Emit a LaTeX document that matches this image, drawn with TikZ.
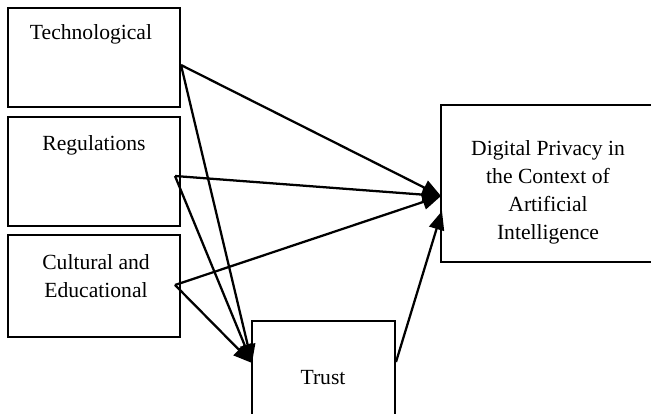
\documentclass[tikz,border=0pt]{standalone}
\usepackage{fontspec}
\setmainfont{Liberation Serif}
\usetikzlibrary{arrows.meta}
\begin{document}
\begin{tikzpicture}[x=0.75pt,y=-0.75pt,
  lbl/.style={font=\fontsize{16.2}{20.8}\selectfont, align=center, inner sep=0pt, anchor=base},
  frame/.style={draw, line width=2.1pt, inner sep=0pt},
  conn/.style={line width=1.7pt, -{Triangle[length=14pt,width=11.5pt]}}]
\useasboundingbox (0,0) rectangle (651,414);
% boxes
\node[frame, minimum width=129pt, minimum height=74.25pt] (tech) at (94,57.5) {};
\node[frame, minimum width=129pt, minimum height=81.75pt] (reg) at (94,171.5) {};
\node[frame, minimum width=129pt, minimum height=76.5pt] (cult) at (94,286) {};
\node[frame, minimum width=165pt, minimum height=117.75pt] (dig) at (551,183.5) {};
\node[frame, minimum width=107.25pt, minimum height=75pt] (trust) at (323.5,371) {};
% labels
\node[lbl] (techt) at (91,40) {Technological};
\node[lbl] (regt) at (94,150) {Regulations};
\node[lbl] (cultt) at (96,297) {Cultural and\\Educational};
\node[lbl] (digt) at (548,239) {Digital Privacy in\\the Context of\\Artificial\\Intelligence};
\node[lbl] (trustt) at (323,384) {Trust};
% connector points
\coordinate (s1) at (181,65);
\coordinate (s2) at (175,176);
\coordinate (s3) at (175,285);
\coordinate (s4) at (396,362);
\coordinate (d1) at (441,196);
\coordinate (d2) at (442,211);
\coordinate (e1) at (252,363);
% connectors
\draw[conn] (s1) -- (d1);
\draw[conn] (s2) -- (d1);
\draw[conn] (s3) -- (d1);
\draw[conn] (s4) -- (d2);
\draw[conn] (s1) -- (e1);
\draw[conn] (s2) -- (e1);
\draw[conn] (s3) -- (e1);
\end{tikzpicture}
\end{document}
